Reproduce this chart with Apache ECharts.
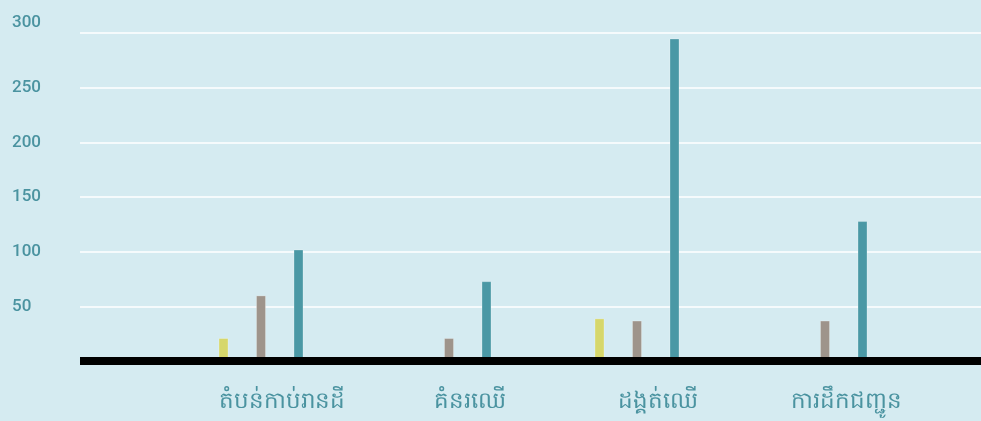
<!DOCTYPE html>
<html>
<head>
<meta charset="utf-8">
<script src="https://cdn.jsdelivr.net/npm/echarts@6/dist/echarts.min.js"></script>
<style>
  html, body { margin: 0; padding: 0; background: #d5ebf1; }
  #chart { width: 981px; height: 421px; }
</style>
</head>
<body>
<div id="chart"></div>
<script>
const categories = ['តំបន់កាប់រានដី', 'គំនរឈើ', 'ដង្គត់ឈើ', 'ការដឹកជញ្ជូន'];
const seriesA = [21, null, 39, null];
const seriesB = [60, 21, 37, 37];
const seriesC = [102, 73, 295, 128];
const yTicks = [0, 50, 100, 150, 200, 250, 300];

const labelColor = '#4a93a0';
const chart = echarts.init(document.getElementById('chart'));
chart.setOption({
  backgroundColor: '#d5ebf1',
  animation: false,
  grid: [
    { left: 80, right: 0, top: 33, bottom: 60 },
    { left: 167, right: 62, top: 33, bottom: 60 }
  ],
  xAxis: [
    {
      type: 'category', gridIndex: 0, data: categories, z: 10,
      axisLine: { show: true, lineStyle: { color: '#000', width: 8, cap: 'butt' } },
      axisTick: { show: false }, axisLabel: { show: false }, splitLine: { show: false }
    },
    {
      type: 'category', gridIndex: 1, data: categories,
      axisLine: { show: false }, axisTick: { show: false }, splitLine: { show: false },
      axisLabel: {
        color: labelColor, fontSize: 23, margin: 29,
        fontFamily: 'Noto Sans, sans-serif',
        padding: [0, 0, 0, 42]
      }
    }
  ],
  yAxis: [
    {
      type: 'value', gridIndex: 0, min: yTicks[0], max: yTicks[yTicks.length - 1], interval: 50,
      axisLine: { show: false }, axisTick: { show: false },
      splitLine: { show: true, lineStyle: { color: '#ffffff', width: 1.5 } },
      axisLabel: {
        align: 'left', margin: 68, color: labelColor, fontSize: 17, fontWeight: 500,
        fontFamily: 'Roboto, sans-serif',
        formatter: function (v) {
          if (v === 0) return '';
          if (v === 300) return '{t|' + v + '}';
          return String(v);
        },
        rich: { t: { color: labelColor, fontSize: 17, fontWeight: 500, fontFamily: 'Roboto, sans-serif', padding: [0, 0, 20, 0] } }
      }
    },
    {
      type: 'value', gridIndex: 1, min: 0, max: 300, show: false
    }
  ],
  series: [
    { type: 'bar', xAxisIndex: 1, yAxisIndex: 1, data: seriesA, barWidth: 10, barGap: '275%',
      itemStyle: { color: '#d6d76b', borderColor: 'rgba(255,255,255,0.25)', borderWidth: 1 } },
    { type: 'bar', xAxisIndex: 1, yAxisIndex: 1, data: seriesB, barWidth: 10, barGap: '275%',
      itemStyle: { color: '#9e948b', borderColor: 'rgba(255,255,255,0.25)', borderWidth: 1 } },
    { type: 'bar', xAxisIndex: 1, yAxisIndex: 1, data: seriesC, barWidth: 10, barGap: '275%',
      itemStyle: { color: '#4a98a5', borderColor: 'rgba(255,255,255,0.25)', borderWidth: 1 } }
  ]
});
</script>
</body>
</html>
